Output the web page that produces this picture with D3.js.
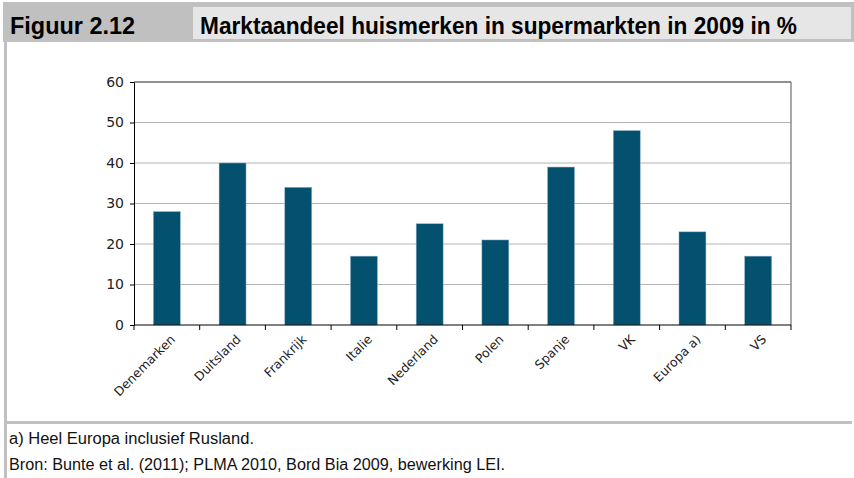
<!DOCTYPE html>
<html>
<head>
<meta charset="utf-8">
<script src="https://cdn.jsdelivr.net/npm/d3@7"></script>
<style>
  body { margin: 0; background: #fff; }
  svg { display: block; }
</style>
</head>
<body>
<div id="chartDiv"></div>
<script>
// data
var countries = ["Denemarken", "Duitsland", "Frankrijk", "Italie", "Nederland",
                 "Polen", "Spanje", "VK", "Europa a)", "VS"];
var shares = [28, 40, 34, 17, 25, 21, 39, 48, 23, 17];
var yTicks = [0, 10, 20, 30, 40, 50, 60];
var figLabel = "Figuur 2.12";
var figTitle = "Marktaandeel huismerken in supermarkten in 2009 in %";
var notes = ["a) Heel Europa inclusief Rusland.",
             "Bron: Bunte et al. (2011); PLMA 2010, Bord Bia 2009, bewerking LEI."];
var noteWidths = [245, 496];

var width = 854, height = 478;
var svg = d3.select("#chartDiv")
    .append("svg")
    .attr("width", width)
    .attr("height", height);

// header band
svg.append("rect")
    .attr("x", 3).attr("y", 2)
    .attr("width", width - 3).attr("height", 40)
    .attr("fill", "#c0c0c0");
svg.append("rect")
    .attr("x", 193).attr("y", 7)
    .attr("width", 658).attr("height", 32)
    .attr("fill", "#e6e6e6");
svg.append("text")
    .attr("x", 10).attr("y", 34)
    .attr("textLength", 125).attr("lengthAdjust", "spacingAndGlyphs")
    .style("font-family", "'Liberation Sans', sans-serif")
    .style("font-weight", "bold").style("font-size", "24px")
    .text(figLabel);
svg.append("text")
    .attr("x", 200).attr("y", 34)
    .attr("textLength", 597).attr("lengthAdjust", "spacingAndGlyphs")
    .style("font-family", "'Liberation Sans', sans-serif")
    .style("font-weight", "bold").style("font-size", "24px")
    .text(figTitle);

// frame lines
svg.append("rect")
    .attr("x", 4).attr("y", 42)
    .attr("width", 3).attr("height", height - 42)
    .attr("fill", "#c0c0c0");
svg.append("rect")
    .attr("x", 4).attr("y", 421)
    .attr("width", 848).attr("height", 3)
    .attr("fill", "#c0c0c0");

// plot
var plot = {left: 134, right: 791, top: 82, bottom: 325};
var x = d3.scaleBand()
    .domain(countries)
    .range([plot.left, plot.right])
    .paddingInner(0.59)
    .paddingOuter(0.295);
var y = d3.scaleLinear()
    .domain([0, 60])
    .range([plot.bottom, plot.top]);

var g = svg.append("g");

// gridlines
g.selectAll("line.grid")
    .data(yTicks.filter(function (d) { return d > 0 && d < 60; }))
    .enter().append("line")
    .attr("class", "grid")
    .attr("x1", plot.left).attr("x2", plot.right)
    .attr("y1", function (d) { return y(d); })
    .attr("y2", function (d) { return y(d); })
    .attr("stroke", "#b4b4b4").attr("stroke-width", 1);

// top and right border
g.append("line")
    .attr("x1", plot.left).attr("x2", plot.right)
    .attr("y1", plot.top).attr("y2", plot.top)
    .attr("stroke", "#222").attr("stroke-width", 1);
g.append("line")
    .attr("x1", plot.right).attr("x2", plot.right)
    .attr("y1", plot.top).attr("y2", plot.bottom)
    .attr("stroke", "#555").attr("stroke-width", 1);

// bars
g.selectAll("rect.bar")
    .data(shares)
    .enter().append("rect")
    .attr("class", "bar")
    .attr("x", function (d, i) { return x(countries[i]); })
    .attr("width", x.bandwidth())
    .attr("y", function (d) { return y(d); })
    .attr("height", function (d) { return y(0) - y(d); })
    .attr("fill", "#03506f")
    .attr("stroke", "#8fb3c6").attr("stroke-width", 0.5);

// y axis
var yAxis = g.append("g")
    .attr("transform", "translate(" + plot.left + ",0)")
    .call(d3.axisLeft(y).tickValues(yTicks).tickSize(4).tickSizeOuter(0).tickPadding(6));
yAxis.selectAll("text")
    .style("font-family", "'DejaVu Sans', sans-serif")
    .style("font-size", "14px").attr("fill", "#222");

// x axis with ticks at category boundaries
var step = x.step();
var xAxis = g.append("g")
    .attr("transform", "translate(0," + plot.bottom + ")");
xAxis.append("line")
    .attr("x1", plot.left).attr("x2", plot.right)
    .attr("stroke", "#000");
xAxis.selectAll("line.tick")
    .data(d3.range(countries.length + 1))
    .enter().append("line")
    .attr("class", "tick")
    .attr("x1", function (i) { return plot.left + i * step; })
    .attr("x2", function (i) { return plot.left + i * step; })
    .attr("y1", 0).attr("y2", 5)
    .attr("stroke", "#000");
xAxis.selectAll("text")
    .data(countries)
    .enter().append("text")
    .attr("transform", function (d) {
        return "translate(" + (x(d) + x.bandwidth() / 2 + 6) + ",12) rotate(-45)";
    })
    .attr("text-anchor", "end")
    .attr("dy", "0.35em")
    .style("font-family", "'DejaVu Sans', sans-serif")
    .style("font-size", "12.5px").attr("fill", "#222")
    .text(function (d) { return d; });
g.selectAll(".domain").attr("stroke", "#000");

// footnotes
svg.selectAll("text.note")
    .data(notes)
    .enter().append("text")
    .attr("class", "note")
    .attr("x", 9)
    .attr("y", function (d, i) { return 444 + i * 26; })
    .attr("textLength", function (d, i) { return noteWidths[i]; })
    .attr("lengthAdjust", "spacingAndGlyphs")
    .style("font-family", "'Liberation Sans', sans-serif")
    .style("font-size", "16px").attr("fill", "#111")
    .text(function (d) { return d; });
</script>
</body>
</html>
